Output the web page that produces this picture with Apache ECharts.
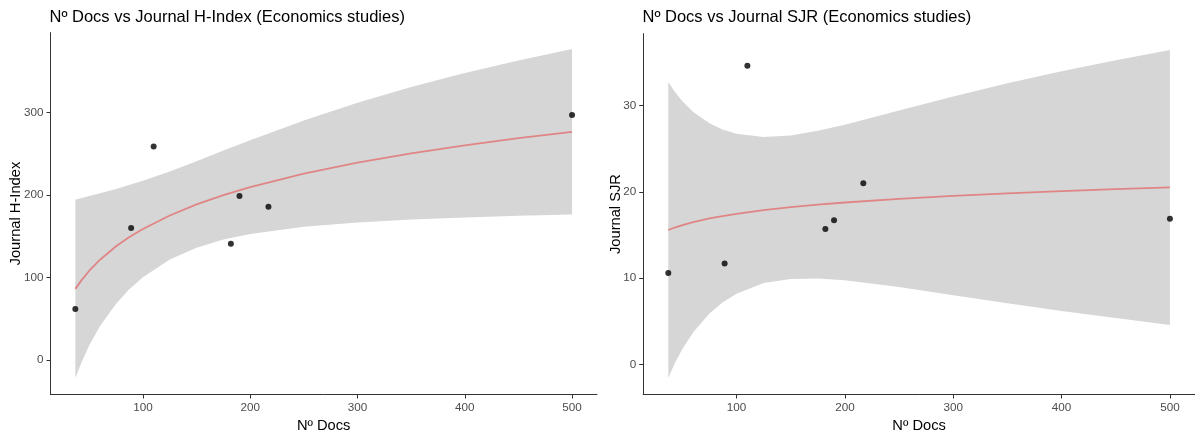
<!DOCTYPE html>
<html>
<head>
<meta charset="utf-8">
<script src="https://cdn.jsdelivr.net/npm/echarts@6/dist/echarts.min.js"></script>
<style>
  html, body { margin: 0; padding: 0; background: #fff; }
  #chart { width: 1195px; height: 438px; }
</style>
</head>
<body>
<div id="chart"></div>
<script>
// ---- data ----
const docs   = [37, 89, 110, 182, 190, 217, 500];
const hIndex = [62, 160, 259, 141, 199, 186, 297];
const sjr    = [10.6, 11.7, 34.6, 15.7, 16.7, 21.0, 16.9];

// positions along x where the smooth line / band were read
const fitX  = [37, 43, 50, 60, 75, 87, 100, 125, 150, 175, 200, 250, 300, 350, 400, 450, 500];
// H-Index panel: fitted line, lower and upper edge of the grey band
const hFit  = [86.4, 97.3, 108.4, 121.7, 138.0, 148.9, 159.0, 175.3, 188.7, 200.0, 209.7, 226.0, 239.4, 250.6, 260.3, 269.0, 276.7];
const hLow  = [-21.7, -1.8, 18.0, 41.3, 68.5, 85.7, 100.6, 122.0, 136.3, 146.1, 152.9, 161.6, 166.9, 170.3, 172.8, 174.9, 176.4];
const hHigh = [194.5, 196.4, 198.8, 202.1, 207.5, 212.1, 217.4, 228.6, 241.1, 253.9, 266.5, 290.4, 311.9, 330.9, 347.8, 363.1, 377.0];
// SJR panel: fitted line, lower and upper edge of the grey band
const sFit  = [15.58, 15.87, 16.15, 16.50, 16.92, 17.20, 17.46, 17.89, 18.23, 18.52, 18.77, 19.19, 19.54, 19.83, 20.08, 20.31, 20.51];
const sLow  = [-1.57, 0.15, 1.81, 3.74, 5.90, 7.18, 8.19, 9.44, 9.92, 9.97, 9.76, 8.97, 8.03, 7.09, 6.20, 5.38, 4.59];
const sHigh = [32.73, 31.59, 30.49, 29.26, 27.94, 27.22, 26.73, 26.34, 26.54, 27.07, 27.78, 29.41, 31.05, 32.57, 33.96, 35.24, 36.43];

// tick labels
const xTicks  = [100, 200, 300, 400, 500];
const hTicks  = [0, 100, 200, 300];
const sTicks  = [0, 10, 20, 30];

const titles = ['Nº Docs vs Journal H-Index (Economics studies)', 'Nº Docs vs Journal SJR (Economics studies)'];
const xName = 'Nº Docs';
const yNames = ['Journal H-Index', 'Journal SJR'];

// ---- chart ----
const FONT = 'Liberation Sans, Arial, sans-serif';
const zip = (a, b) => a.map((v, i) => [v, b[i]]);

const grids = [
  { left: 50.5, top: 32.6, width: 546.4, height: 365.1 },
  { left: 643.2, top: 33.6, width: 556.1, height: 364.1 }
];

function xAxisFor(i) {
  return {
    gridIndex: i, type: 'value', min: 13.85, max: 523.15,
    name: xName, nameLocation: 'middle', nameGap: 23.5, nameMoveOverlap: false,
    nameTextStyle: { fontFamily: FONT, fontSize: 14.7, color: '#000' },
    axisLine: { show: true, onZero: false, lineStyle: { color: '#333', width: 1 } },
    axisTick: { show: true, length: 4, lineStyle: { color: '#333', width: 1 }, customValues: xTicks },
    axisLabel: { fontFamily: FONT, fontSize: 11.7, color: '#4D4D4D', margin: 7, customValues: xTicks },
    splitLine: { show: false }
  };
}
function yAxisFor(i, min, max, ticks, gap) {
  return {
    gridIndex: i, type: 'value', min: min, max: max,
    name: yNames[i], nameLocation: 'middle', nameGap: gap, nameRotate: 90, nameMoveOverlap: false,
    nameTextStyle: { fontFamily: FONT, fontSize: 14.7, color: '#000' },
    axisLine: { show: true, onZero: false, lineStyle: { color: '#333', width: 1 } },
    axisTick: { show: true, length: 4, lineStyle: { color: '#333', width: 1 }, customValues: ticks },
    axisLabel: { fontFamily: FONT, fontSize: 11.7, color: '#4D4D4D', margin: 7, customValues: ticks },
    splitLine: { show: false }
  };
}

function panelSeries(i, low, high, fit, ys) {
  return [
    { // confidence band as one polygon placed through the axis scales
      type: 'custom', xAxisIndex: i, yAxisIndex: i, coordinateSystem: 'cartesian2d',
      data: [[fitX[0], low[0]]], clip: false, silent: true, z: 1,
      renderItem: function (params, api) {
        const upper = fitX.map((x, k) => api.coord([x, high[k]]));
        const lower = fitX.map((x, k) => api.coord([x, low[k]])).reverse();
        return { type: 'polygon', shape: { points: upper.concat(lower) }, style: { fill: '#D6D6D6' } };
      }
    },
    { type: 'line', xAxisIndex: i, yAxisIndex: i, data: zip(fitX, fit),
      symbol: 'none', smooth: false, lineStyle: { color: '#E08585', width: 1.8 }, silent: true, z: 2 },
    { type: 'scatter', xAxisIndex: i, yAxisIndex: i, data: zip(docs, ys),
      symbol: 'circle', symbolSize: 6, itemStyle: { color: '#000' }, z: 3 }
  ];
}

const chart = echarts.init(document.getElementById('chart'), null, { renderer: 'canvas' });
chart.setOption({
  animation: false,
  backgroundColor: '#fff',
  title: [
    { text: titles[0], left: 49.5, top: 9, padding: 0, textStyle: { fontFamily: FONT, fontSize: 16.5, fontWeight: 'normal', color: '#000' } },
    { text: titles[1], left: 642.5, top: 9, padding: 0, textStyle: { fontFamily: FONT, fontSize: 16.5, fontWeight: 'normal', color: '#000' } }
  ],
  grid: grids,
  xAxis: [xAxisFor(0), xAxisFor(1)],
  yAxis: [yAxisFor(0, -41.6, 396.9, hTicks, 27), yAxisFor(1, -3.47, 38.33, sTicks, 20)],
  series: [].concat(
    panelSeries(0, hLow, hHigh, hFit, hIndex),
    panelSeries(1, sLow, sHigh, sFit, sjr)
  )
});
</script>
</body>
</html>
